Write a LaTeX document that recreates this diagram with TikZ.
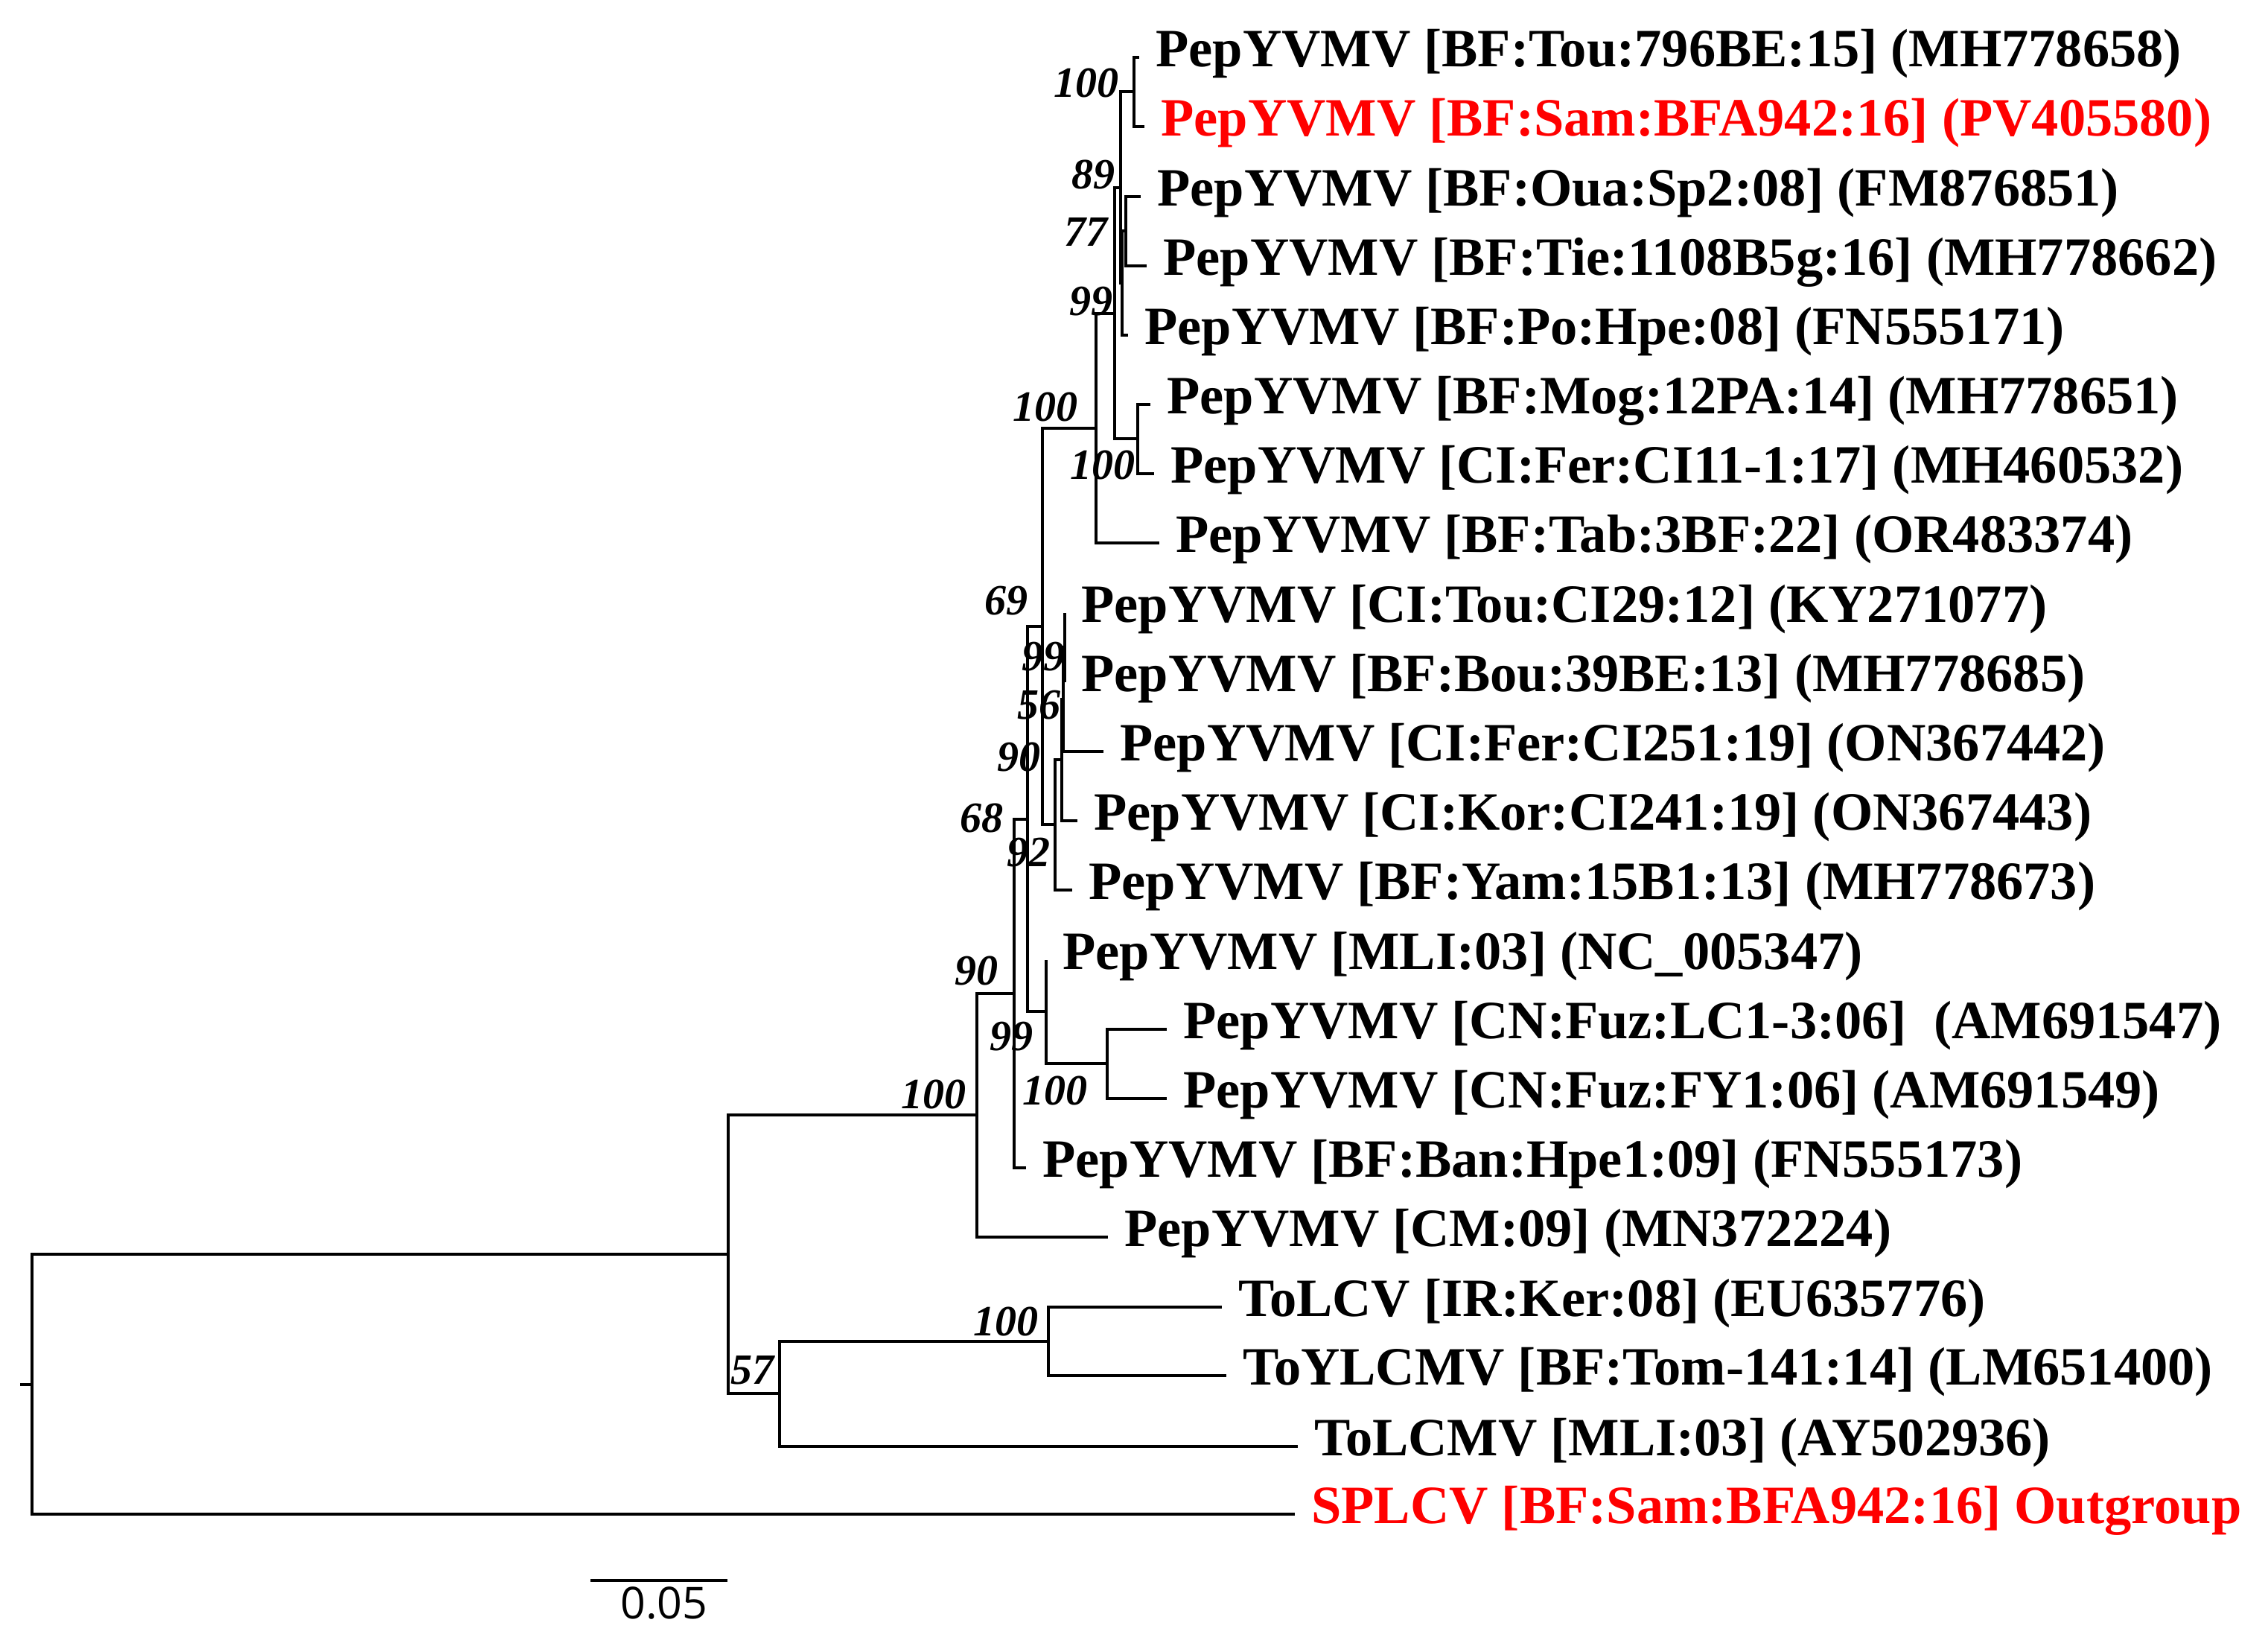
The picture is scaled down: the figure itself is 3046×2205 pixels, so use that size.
\documentclass[tikz,border=0pt]{standalone}
\usepackage{fontspec}
\setmainfont{Liberation Serif}
\newfontfamily\barfont{Open Sans}
\usepackage{tikz}

\begin{document}
\begin{tikzpicture}[x=0.01cm, y=-0.01cm, line width=1.3pt, line join=miter,
        leaf/.style={anchor=base west, inner sep=0pt, xshift=0.2cm, yshift=-0.12cm,
                        font=\fontsize{20.6}{24}\selectfont\bfseries},
        bs/.style={anchor=base east, inner sep=0pt,
                        font=\fontsize{16.5}{20}\selectfont\bfseries\itshape}]
    \useasboundingbox (0,0) rectangle (3046,2205);
    \coordinate (root) at (43,1859);  \coordinate (stub) at (27,1859);
    \coordinate (A) at (978,1684);    \coordinate (B) at (1312,1497);
    \coordinate (C) at (1047,1871);   \coordinate (D) at (1408,1801);
    \coordinate (n90) at (1362,1334); \coordinate (n68) at (1380,1100);
    \coordinate (n99c) at (1405,1358);\coordinate (ncn) at (1487,1428);
    \coordinate (n69) at (1400,841);  \coordinate (n92) at (1417,1107);
    \coordinate (nq) at (1426,1020);  \coordinate (np) at (1428,939);
    \coordinate (n99b) at (1430,869); \coordinate (na) at (1472,575);
    \coordinate (n99) at (1497,421);  \coordinate (n89) at (1505,252);
    \coordinate (n12) at (1523,123);  \coordinate (n77) at (1507,380);
    \coordinate (n34) at (1512,310);  \coordinate (n67) at (1528,589);
    \coordinate (l1) at (1530,77);    \coordinate (l2) at (1537,170);
    \coordinate (l3) at (1532,264);   \coordinate (l4) at (1540,357);
    \coordinate (l5) at (1515,450);   \coordinate (l6) at (1545,543);
    \coordinate (l7) at (1550,636);   \coordinate (l8) at (1557,729);
    \coordinate (l9) at (1430,823);   \coordinate (l10) at (1430,916);
    \coordinate (l11) at (1482,1009); \coordinate (l12) at (1447,1102);
    \coordinate (l13) at (1440,1195); \coordinate (l14) at (1405,1289);
    \coordinate (l15) at (1567,1382); \coordinate (l16) at (1567,1475);
    \coordinate (l17) at (1378,1568); \coordinate (l18) at (1488,1661);
    \coordinate (l19) at (1641,1755); \coordinate (l20) at (1647,1847);
    \coordinate (l21) at (1743,1942); \coordinate (l22) at (1739,2033);
    \draw (stub) -- (root)
          (root) |- (A) (root) |- (l22)
          (A) |- (B) (A) |- (C)
          (B) |- (n90) (B) |- (l18)
          (C) |- (D) (C) |- (l21)
          (D) |- (l19) (D) |- (l20)
          (n90) |- (n68) (n90) |- (l17)
          (n68) |- (n69) (n68) |- (n99c)
          (n99c) |- (l14) (n99c) |- (ncn)
          (ncn) |- (l15) (ncn) |- (l16)
          (n69) |- (na) (n69) |- (n92)
          (n92) |- (nq) (n92) |- (l13)
          (nq) |- (np) (nq) |- (l12)
          (np) |- (n99b) (np) |- (l11)
          (n99b) |- (l9) (n99b) |- (l10)
          (na) |- (n99) (na) |- (l8)
          (n99) |- (n89) (n99) |- (n67)
          (n89) |- (n12) (n89) |- (n77)
          (n12) |- (l1) (n12) |- (l2)
          (n77) |- (n34) (n77) |- (l5)
          (n34) |- (l3) (n34) |- (l4)
          (n67) |- (l6) (n67) |- (l7)
        ;
    \node[leaf] (t1) at (l1) {PepYVMV [BF:Tou:796BE:15] (MH778658)};
    \node[leaf, red] (t2) at (l2) {PepYVMV [BF:Sam:BFA942:16] (PV405580)};
    \node[leaf] (t3) at (l3) {PepYVMV [BF:Oua:Sp2:08] (FM876851)};
    \node[leaf] (t4) at (l4) {PepYVMV [BF:Tie:1108B5g:16] (MH778662)};
    \node[leaf] (t5) at (l5) {PepYVMV [BF:Po:Hpe:08] (FN555171)};
    \node[leaf] (t6) at (l6) {PepYVMV [BF:Mog:12PA:14] (MH778651)};
    \node[leaf] (t7) at (l7) {PepYVMV [CI:Fer:CI11-1:17] (MH460532)};
    \node[leaf] (t8) at (l8) {PepYVMV [BF:Tab:3BF:22] (OR483374)};
    \node[leaf] (t9) at (l9) {PepYVMV [CI:Tou:CI29:12] (KY271077)};
    \node[leaf] (t10) at (l10) {PepYVMV [BF:Bou:39BE:13] (MH778685)};
    \node[leaf] (t11) at (l11) {PepYVMV [CI:Fer:CI251:19] (ON367442)};
    \node[leaf] (t12) at (l12) {PepYVMV [CI:Kor:CI241:19] (ON367443)};
    \node[leaf] (t13) at (l13) {PepYVMV [BF:Yam:15B1:13] (MH778673)};
    \node[leaf] (t14) at (l14) {PepYVMV [MLI:03] (NC\_005347)};
    \node[leaf] (t15) at (l15) {PepYVMV [CN:Fuz:LC1-3:06]\ \ (AM691547)};
    \node[leaf] (t16) at (l16) {PepYVMV [CN:Fuz:FY1:06] (AM691549)};
    \node[leaf] (t17) at (l17) {PepYVMV [BF:Ban:Hpe1:09] (FN555173)};
    \node[leaf] (t18) at (l18) {PepYVMV [CM:09] (MN372224)};
    \node[leaf] (t19) at (l19) {ToLCV [IR:Ker:08] (EU635776)};
    \node[leaf] (t20) at (l20) {ToYLCMV [BF:Tom-141:14] (LM651400)};
    \node[leaf] (t21) at (l21) {ToLCMV [MLI:03] (AY502936)};
    \node[leaf, red] (t22) at (l22) {SPLCV [BF:Sam:BFA942:16] Outgroup};
    \node[bs] (b12) at (1505,130) {100};
    \node[bs] (b89) at (1500,253) {89};
    \node[bs] (b34) at (1490,330) {77};
    \node[bs] (b99) at (1497,423) {99};
    \node[bs] (bna) at (1450,565) {100};
    \node[bs] (b67) at (1527,643) {100};
    \node[bs] (b69) at (1383,825) {69};
    \node[bs] (b99b) at (1433,900) {99};
    \node[bs] (bnp) at (1427,965) {56};
    \node[bs] (bnq) at (1400,1035) {90};
    \node[bs] (b68) at (1350,1117) {68};
    \node[bs] (b92) at (1413,1163) {92};
    \node[bs] (b90) at (1343,1322) {90};
    \node[bs] (b99c) at (1390,1410) {99};
    \node[bs] (bB) at (1300,1488) {100};
    \node[bs] (bcn) at (1463,1483) {100};
    \node[bs] (bD) at (1397,1793) {100};
    \node[bs] (bC) at (1042,1858) {57};
    \coordinate (sbl) at (793,2122);  \coordinate (sbr) at (977,2122);
    \draw (sbl) -- (sbr);
    \node[anchor=base, inner sep=0pt, font=\barfont\fontsize{16.8}{20}\selectfont]
        (sbt) at (892,2173) {0.05};
\end{tikzpicture}
\end{document}
